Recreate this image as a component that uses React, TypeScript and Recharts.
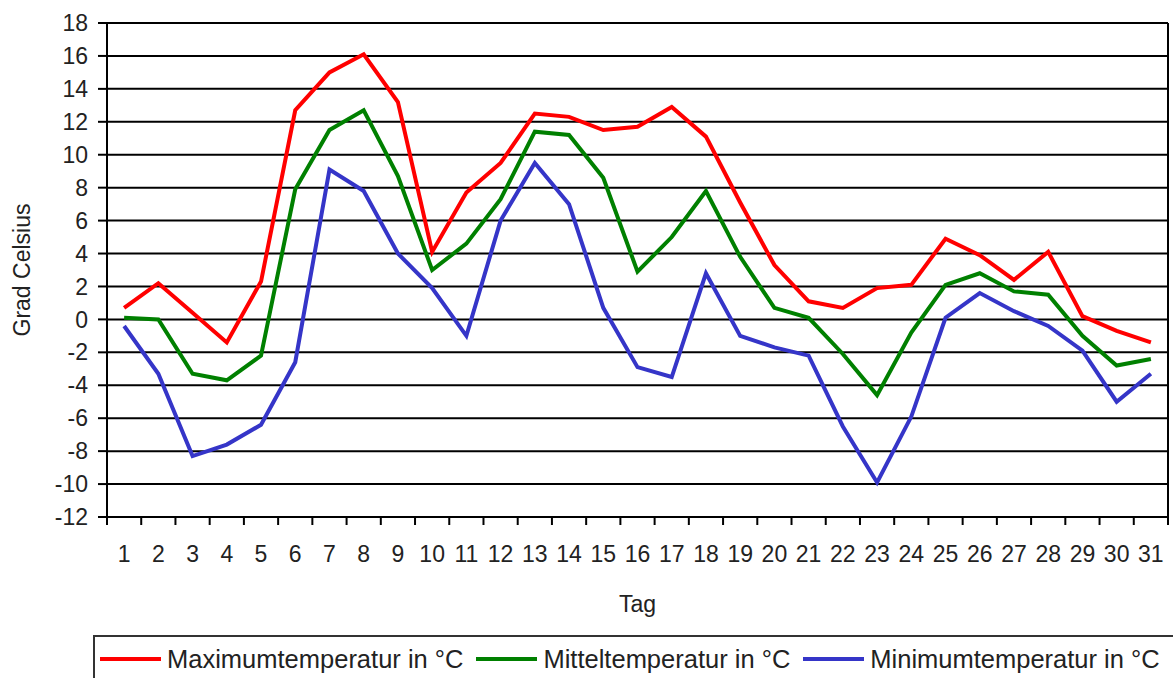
import { CartesianGrid, Line, LineChart, ReferenceLine, XAxis, YAxis } from "recharts";

const days = Array.from({ length: 31 }, (_, i) => i + 1);

const maxTemp = [
  0.7, 2.2, 0.4, -1.4, 2.3, 12.7, 15.0, 16.1, 13.2, 4.1, 7.7, 9.5, 12.5, 12.3, 11.5, 11.7,
  12.9, 11.1, 7.1, 3.3, 1.1, 0.7, 1.9, 2.1, 4.9, 3.9, 2.4, 4.1, 0.2, -0.7, -1.4,
];
const meanTemp = [
  0.1, 0.0, -3.3, -3.7, -2.2, 7.9, 11.5, 12.7, 8.7, 3.0, 4.6, 7.3, 11.4, 11.2, 8.6, 2.9,
  5.0, 7.8, 3.8, 0.7, 0.1, -2.1, -4.6, -0.8, 2.1, 2.8, 1.7, 1.5, -1.0, -2.8, -2.4,
];
const minTemp = [
  -0.4, -3.3, -8.3, -7.6, -6.4, -2.6, 9.1, 7.8, 4.0, 1.9, -1.0, 6.0, 9.5, 7.0, 0.7, -2.9,
  -3.5, 2.8, -1.0, -1.7, -2.2, -6.5, -9.9, -5.9, 0.1, 1.6, 0.5, -0.4, -1.9, -5.0, -3.3,
];

const yTicks = [-12, -10, -8, -6, -4, -2, 0, 2, 4, 6, 8, 10, 12, 14, 16, 18];

const series = [
  { key: "max", name: "Maximumtemperatur in °C", color: "#ff0000" },
  { key: "mean", name: "Mitteltemperatur in °C", color: "#008000" },
  { key: "min", name: "Minimumtemperatur in °C", color: "#3535c8" },
];

const data = days.map((day, i) => ({
  day,
  max: maxTemp[i],
  mean: meanTemp[i],
  min: minTemp[i],
}));

// labels on whole days, tick marks on the boundaries between days
const xTicks = [0.5, ...days.flatMap((d) => [d, d + 0.5])];

const font = "'Liberation Sans', Arial, sans-serif";
const ink = "#222";

function DayTick({ x, y, payload }: any) {
  const v = payload.value;
  if (Number.isInteger(v)) {
    return (
      <text x={x} y={y + 45} textAnchor="middle" fontSize={23} fontFamily={font} fill={ink}>
        {v}
      </text>
    );
  }
  return <line x1={x} x2={x} y1={y} y2={y + 8} stroke="#000" strokeWidth={2} />;
}

export default function App() {
  return (
    <div
      style={{
        position: "absolute",
        left: 0,
        top: 0,
        width: 1173,
        height: 678,
        overflow: "hidden",
        background: "#fff",
      }}
    >
      <LineChart
        width={1173}
        height={678}
        data={data}
        margin={{ top: 23, right: 5, left: 0, bottom: 61 }}
      >
        <CartesianGrid vertical={false} stroke="#000" strokeWidth={2} />
        <XAxis
          dataKey="day"
          type="number"
          domain={[0.5, 31.5]}
          ticks={xTicks}
          interval={0}
          tick={<DayTick />}
          tickLine={false}
          tickSize={0}
          tickMargin={0}
          height={100}
          axisLine={{ stroke: "#000", strokeWidth: 2 }}
          label={{
            value: "Tag",
            position: "insideBottom",
            offset: 5,
            fontSize: 23,
            fontFamily: font,
            fill: ink,
          }}
        />
        <YAxis
          domain={[-12, 18]}
          ticks={yTicks}
          interval={0}
          width={107}
          tickSize={9}
          tickMargin={10}
          tickLine={{ stroke: "#000", strokeWidth: 2 }}
          axisLine={{ stroke: "#000", strokeWidth: 2 }}
          tick={{ fontSize: 23, fontFamily: font, fill: ink }}
          label={{
            value: "Grad Celsius",
            angle: -90,
            position: "insideLeft",
            offset: 22,
            fontSize: 23,
            fontFamily: font,
            fill: ink,
            style: { textAnchor: "middle" },
          }}
        />
        <ReferenceLine x={31.5} stroke="#000" strokeWidth={2} />
        {series.map((s) => (
          <Line
            key={s.key}
            type="linear"
            dataKey={s.key}
            name={s.name}
            stroke={s.color}
            strokeWidth={4}
            dot={false}
            isAnimationActive={false}
          />
        ))}
      </LineChart>
      <div
        style={{
          position: "absolute",
          left: 93,
          top: 635,
          width: 1100,
          height: 60,
          borderTop: "2px solid #333",
          borderLeft: "2px solid #333",
          boxSizing: "border-box",
        }}
      >
        <div style={{ display: "flex", alignItems: "center", height: 28, marginTop: 8, paddingLeft: 5 }}>
          {series.map((s) => (
            <div key={s.key} style={{ display: "flex", alignItems: "center", marginRight: 13 }}>
              <span
                style={{ display: "inline-block", width: 61, height: 4, background: s.color, marginRight: 6 }}
              />
              <span
                style={{
                  fontFamily: font,
                  fontSize: 25.5,
                  lineHeight: "28px",
                  color: ink,
                  whiteSpace: "nowrap",
                }}
              >
                {s.name}
              </span>
            </div>
          ))}
        </div>
      </div>
    </div>
  );
}
